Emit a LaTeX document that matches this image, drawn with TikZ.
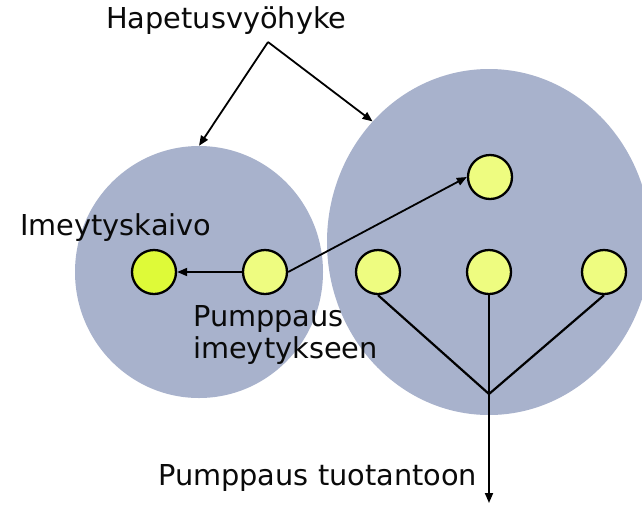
\documentclass[tikz,border=0pt]{standalone}
\usepackage{fontspec}
\setmainfont{DejaVu Sans}
\usetikzlibrary{shapes.geometric,arrows.meta}
\definecolor{zone}{RGB}{168,178,204}
\definecolor{wellA}{RGB}{238,252,128}
\definecolor{wellB}{RGB}{222,250,56}
\definecolor{txt}{RGB}{10,10,10}
\tikzset{
  zonebox/.style={ellipse, fill=zone, inner sep=0pt},
  well/.style={circle, draw=black, line width=2.3pt, minimum size=44pt, inner sep=0pt, fill=wellA},
  lbl/.style={font=\fontsize{28.8}{32}\selectfont, text=txt, inner sep=0pt, anchor=base west},
  arr/.style={draw=black, line width=1.8pt, -{Triangle[length=10pt,width=8pt]}},
  ln/.style={draw=black, line width=2.2pt}
}
\begin{document}
\begin{tikzpicture}[x=1pt,y=-1pt]
\clip (0,0) rectangle (642,504);
\fill[white] (0,0) rectangle (642,504);
\node[zonebox, minimum width=248pt, minimum height=252pt] (L) at (199,272) {};
\node[zonebox, minimum width=324pt, minimum height=346pt] (R) at (489,242) {};
\node[well] (t) at (490,177) {};
\node[well, fill=wellB] (c1) at (154,272) {};
\node[well] (c2) at (265,272) {};
\node[well] (b1) at (378,272) {};
\node[well] (b2) at (489,272) {};
\node[well] (b3) at (604,272) {};
\node[lbl] (hap) at (106,28) {Hapetusvyöhyke};
\node[lbl] (ime) at (20,235) {Imeytyskaivo};
\node[lbl, align=left, anchor=north west] (pim) at (193,305) {Pumppaus\\imeytykseen};
\node[lbl] (ptu) at (158,485) {Pumppaus tuotantoon};
\coordinate (apex) at (268,42);
\coordinate (junc) at (489,394);
\coordinate (out) at (489,503);
\draw[arr] (apex) -- (L.north);
\draw[arr] (apex) -- (R.134);
\draw[arr] (c2) -- (c1);
\draw[arr] (c2.east) -- (t.west);
\draw[ln] (b1.south) -- (junc) -- (b3.south);
\draw[ln] (b2.south) -- (junc);
\draw[arr] (junc) -- (out);
\end{tikzpicture}
\end{document}
